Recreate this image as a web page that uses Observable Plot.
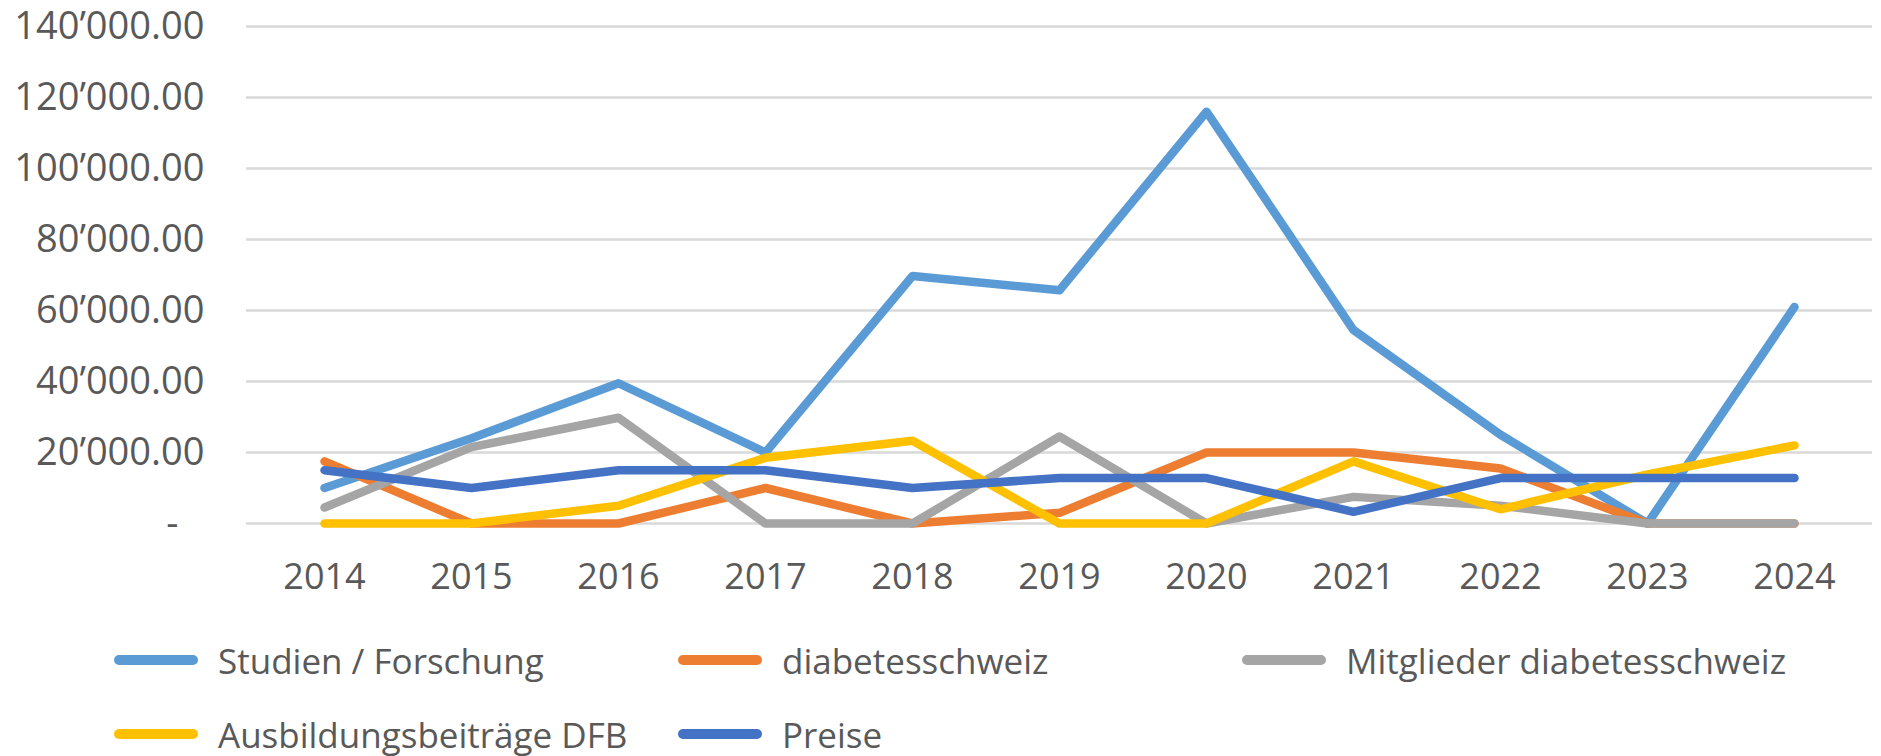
<!DOCTYPE html>
<html>
<head>
<meta charset="utf-8">
<script src="https://cdn.jsdelivr.net/npm/d3@7"></script>
<script src="https://cdn.jsdelivr.net/npm/@observablehq/plot@0.6"></script>
<style>
  html, body { margin: 0; padding: 0; background: #fff; overflow: hidden; }
  #chart { width: 1881px; }
  .legend {
    display: grid;
    grid-template-columns: 564px 564px 564px;
    grid-auto-rows: 74px;
    padding-left: 114px;
    padding-top: 3px;
    font-family: "Open Sans", sans-serif;
    font-size: 35px;
    color: #595959;
  }
  .legend .item { display: flex; align-items: center; white-space: nowrap; }
  .legend .sw { width: 84px; height: 10px; border-radius: 5px; margin-right: 20px; flex: none; }
</style>
</head>
<body>
<div id="chart"></div>
<script>
const years = ["2014","2015","2016","2017","2018","2019","2020","2021","2022","2023","2024"];
const seriesNames = ["Studien / Forschung","diabetesschweiz","Mitglieder diabetesschweiz","Ausbildungsbeiträge DFB","Preise"];
const seriesColors = ["#5B9BD5","#ED7D31","#A5A5A5","#FFC000","#4472C4"];

const studienForschung = [10000, 24000, 39500, 20000, 69700, 65700, 116000, 54500, 25000, 0, 61000];
const diabetesschweiz  = [17500, 0, 0, 10000, 0, 3000, 20000, 20000, 15500, 0, 0];
const mitglieder       = [4500, 21500, 29800, 0, 0, 24500, 0, 7500, 5000, 0, 0];
const ausbildung       = [0, 0, 5000, 18500, 23300, 0, 0, 17500, 4000, 13800, 22000];
const preise           = [15000, 10000, 15000, 15000, 10000, 12800, 12800, 3300, 12800, 12800, 12800];

const yTicks = [0, 20000, 40000, 60000, 80000, 100000, 120000, 140000];

const allSeries = [studienForschung, diabetesschweiz, mitglieder, ausbildung, preise];
const data = [];
allSeries.forEach((vals, si) => {
  vals.forEach((v, i) => data.push({series: seriesNames[si], year: years[i], value: v}));
});

const fmt = d => {
  if (d === 0) return "-\u00a0\u00a0\u2009";
  const s = d3.format(",.2f")(d);
  return s.replace(/,/g, "\u2019");
};

const chart = Plot.plot({
  width: 1881,
  height: 620,
  marginLeft: 246,
  marginRight: 9,
  marginTop: 26,
  marginBottom: 97,
  style: {fontFamily: "'Open Sans', sans-serif", fontSize: "36px", color: "#595959", background: "#fff"},
  x: {type: "point", domain: years, padding: 0.5, label: null},
  y: {domain: [0, 140000], label: null},
  color: {domain: seriesNames, range: seriesColors},
  marks: [
    Plot.ruleY(yTicks, {stroke: "#d9d9d9", strokeWidth: 2.5}),
    Plot.axisY({ticks: yTicks, tickSize: 0, tickPadding: 42, tickFormat: fmt, label: null, fontSize: 38}),
    Plot.axisX({tickSize: 0, tickPadding: 40, label: null, fontSize: 36}),
    Plot.line(data, {x: "year", y: "value", z: "series", stroke: "series", strokeWidth: 8.5, strokeLinecap: "round", strokeLinejoin: "round"})
  ]
});
document.getElementById("chart").appendChild(chart);

const legend = document.createElement("div");
legend.className = "legend";
seriesNames.forEach((name, i) => {
  const item = document.createElement("div");
  item.className = "item";
  const sw = document.createElement("span");
  sw.className = "sw";
  sw.style.background = seriesColors[i];
  item.appendChild(sw);
  item.appendChild(document.createTextNode(name));
  legend.appendChild(item);
});
document.getElementById("chart").appendChild(legend);
</script>
</body>
</html>
